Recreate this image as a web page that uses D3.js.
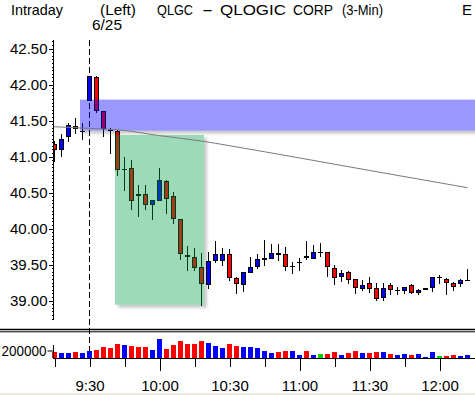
<!DOCTYPE html>
<html>
<head>
<meta charset="utf-8">
<script src="https://cdn.jsdelivr.net/npm/d3@7"></script>
<style>
body { margin: 0; background: #fff; }
svg { display: block; font-family: "Liberation Sans", Arial, sans-serif; }
</style>
</head>
<body>
<svg id="chart" width="475" height="395"></svg>
<script>
// QLGC 3-min bars, 6/25
var times = ["9:15","9:18","9:21","9:24","9:27","9:30","9:33","9:36","9:39","9:42",
  "9:45","9:48","9:51","9:54","9:57","10:00","10:03","10:06","10:09","10:12",
  "10:15","10:18","10:21","10:24","10:27","10:30","10:33","10:36","10:39","10:42",
  "10:45","10:48","10:51","10:54","10:57","11:00","11:03","11:06","11:09","11:12",
  "11:15","11:18","11:21","11:24","11:27","11:30","11:33","11:36","11:39","11:42",
  "11:45","11:48","11:51","11:54","11:57","12:00","12:03","12:06","12:09","12:12"];
var opens = [41.17,41.11,41.28,41.42,41.35,41.79,42.11,41.63,41.375,41.36,
  40.82,40.84,40.48,40.48,40.34,40.40,40.66,40.45,40.13,39.625,
  39.60,39.47,39.23,39.56,39.56,39.645,39.31,39.23,39.40,39.48,
  39.58,39.59,39.66,39.64,39.475,39.535,39.62,39.59,39.68,39.68,
  39.45,39.34,39.40,39.295,39.18,39.24,39.17,39.05,39.21,39.14,
  39.14,39.215,39.115,39.155,39.185,39.32,39.295,39.24,39.24,39.28];
var highs = [41.21,41.31,41.47,41.54,41.46,42.12,42.12,41.63,41.39,41.37,
  41.00,40.95,40.61,40.61,40.40,40.84,40.67,40.50,40.13,39.76,
  39.73,39.66,39.68,39.83,39.73,39.71,39.33,39.39,39.60,39.65,
  39.84,39.78,39.78,39.745,39.54,39.595,39.82,39.77,39.795,39.68,
  39.49,39.42,39.41,39.295,39.285,39.33,39.24,39.24,39.24,39.19,
  39.185,39.23,39.16,39.17,39.33,39.35,39.31,39.255,39.295,39.435];
var lows = [40.94,41.01,41.22,41.32,41.24,41.79,41.62,41.29,41.05,40.74,
  40.53,40.27,40.18,40.27,40.13,40.39,40.22,40.08,39.57,39.43,
  39.42,38.94,39.18,39.53,39.50,39.28,39.11,39.13,39.39,39.45,
  39.49,39.59,39.56,39.43,39.38,39.42,39.57,39.59,39.62,39.345,
  39.23,39.275,39.24,39.10,39.145,39.115,39.005,39.005,39.085,39.085,
  39.10,39.10,39.085,39.155,39.13,39.25,39.085,39.14,39.195,39.28];
var closes = [41.11,41.25,41.44,41.40,41.36,42.12,41.64,41.39,41.37,40.82,
  40.83,40.39,40.47,40.34,40.40,40.68,40.42,40.14,39.66,39.62,
  39.47,39.24,39.55,39.64,39.645,39.32,39.25,39.39,39.46,39.58,
  39.59,39.655,39.65,39.48,39.48,39.54,39.60,39.67,39.68,39.48,
  39.33,39.38,39.295,39.19,39.21,39.18,39.03,39.17,39.155,39.145,
  39.185,39.115,39.14,39.17,39.32,39.32,39.255,39.20,39.28,39.285];
var volumes = [170000,133000,133000,150000,133000,195000,213000,293000,267000,381000,
  355000,328000,300000,300000,222000,507000,248000,355000,453000,381000,
  365000,453000,408000,328000,267000,381000,312000,293000,293000,267000,
  195000,133000,160000,195000,195000,88000,195000,88000,107000,107000,
  160000,88000,140000,195000,140000,140000,170000,170000,107000,88000,
  115000,88000,115000,30000,170000,60000,60000,88000,60000,88000];

// gray study line
var trendTimes = ["9:14","9:30","9:42","10:00","10:18","10:30","11:00","11:30","12:00","12:12"];
var trendValues = [41.415,41.39,41.372,41.29,41.215,41.15,40.98,40.806,40.635,40.567];

// axes
var priceTicks = [39.0,39.5,40.0,40.5,41.0,41.5,42.0,42.5];
var volumeTicks = [200000];
var timeTicks = ["9:15","9:30","9:45","10:00","10:15","10:30","10:45","11:00","11:15","11:30","11:45","12:00"];
var timeLabels = ["9:30","10:00","10:30","11:00","11:30","12:00"];
var longTicks = ["10:00","11:00","11:30","12:00"];

// highlighted zones
var bandStart = "9:27", bandEnd = "12:30", bandLow = 41.36, bandHigh = 41.79;
var boxStart = "9:42", boxEnd = "10:18", boxLow = 38.94, boxHigh = 41.30;

function mins(t) { var p = t.split(":"); return +p[0] * 60 + +p[1]; }
function hm(m) { return Math.floor(m / 60) + ":" + d3.format("02")(m % 60); }

var svg = d3.select("#chart");
var W = 475;

var x = d3.scaleLinear().domain([mins("9:15"), mins("12:12")]).range([54.5, 467.5]);
var y = d3.scaleLinear().domain([39, 42.5]).range([300.5, 48.5]);
var yv = d3.scaleLinear().domain([0, 200000]).range([358, 350.5]);

var defs = svg.append("defs");
defs.append("clipPath").attr("id", "plot").append("rect")
  .attr("x", 54).attr("y", 36).attr("width", W - 54).attr("height", 290);

var sh = defs.append("filter").attr("id", "shadow")
  .attr("x", "-10%").attr("y", "-20%").attr("width", "130%").attr("height", "160%");
sh.append("feGaussianBlur").attr("in", "SourceAlpha").attr("stdDeviation", 1.6).attr("result", "b");
sh.append("feOffset").attr("in", "b").attr("dx", 2.5).attr("dy", 3).attr("result", "o");
sh.append("feComponentTransfer").attr("in", "o").attr("result", "s")
  .append("feFuncA").attr("type", "linear").attr("slope", 0.55);
sh.append("feGaussianBlur").attr("in", "SourceGraphic").attr("stdDeviation", 0.6).attr("result", "g");
var mg = sh.append("feMerge");
mg.append("feMergeNode").attr("in", "s");
mg.append("feMergeNode").attr("in", "g");

// header
var hdr = svg.append("g").attr("font-size", 15).attr("fill", "#000");
function label(tx, ty, len, s) {
  var t = hdr.append("text").attr("x", tx).attr("y", ty).text(s);
  if (len) t.attr("textLength", len).attr("lengthAdjust", "spacingAndGlyphs");
}
label(11, 15, 52, "Intraday");
label(100, 15, 36, "(Left)");
label(157, 15, 36, "QLGC");
label(202, 15, 11, "-");
label(220, 15, 66, "QLOGIC");
label(293, 15, 40, "CORP");
label(342, 15, 41, "(3-Min)");
label(462, 15, 0, "E");
label(92, 30, 30, "6/25");

// session start marker
svg.append("line")
  .attr("x1", x(mins("9:30"))).attr("x2", x(mins("9:30")))
  .attr("y1", 40).attr("y2", 358)
  .attr("stroke", "#000").attr("stroke-dasharray", "6,3");

var bars = times.map(function (t, i) {
  return { t: mins(t), o: opens[i], h: highs[i], l: lows[i], c: closes[i], v: volumes[i] };
});
function barColor(d) { return d.c > d.o ? "#0000ff" : d.c < d.o ? "#ff0000" : "#00d000"; }

var plot = svg.append("g").attr("clip-path", "url(#plot)");

// candles
var cg = plot.append("g").attr("shape-rendering", "crispEdges");
cg.selectAll("line.wick").data(bars).enter().append("line")
  .attr("class", "wick")
  .attr("x1", function (d) { return x(d.t); }).attr("x2", function (d) { return x(d.t); })
  .attr("y1", function (d) { return Math.round(y(d.h)); })
  .attr("y2", function (d) { return Math.round(y(d.l)) + 1; })
  .attr("stroke", "#000");
bars.forEach(function (d) {
  var top = Math.round(y(Math.max(d.o, d.c)));
  var bot = Math.round(y(Math.min(d.o, d.c)));
  var cx = x(d.t);
  if (bot - top < 1) {
    cg.append("line").attr("x1", cx - 2.5).attr("x2", cx + 2.5)
      .attr("y1", top + 0.5).attr("y2", top + 0.5).attr("stroke", "#000");
  } else {
    cg.append("rect").attr("x", cx - 2).attr("y", top + 0.5)
      .attr("width", 4).attr("height", bot - top)
      .attr("fill", barColor(d)).attr("stroke", "#000");
  }
});

// zones
plot.append("rect")
  .attr("x", x(mins(bandStart)) - 2.5).attr("y", y(bandHigh))
  .attr("width", x(mins(bandEnd)) - x(mins(bandStart)))
  .attr("height", y(bandLow) - y(bandHigh))
  .attr("fill", "rgb(0,0,255)").attr("opacity", 0.4)
  .attr("filter", "url(#shadow)");
plot.append("rect")
  .attr("x", x(mins(boxStart)) - 2.5).attr("y", y(boxHigh))
  .attr("width", x(mins(boxEnd)) - x(mins(boxStart)) + 5)
  .attr("height", y(boxLow) - y(boxHigh))
  .attr("fill", "rgb(0,160,70)").attr("opacity", 0.38)
  .attr("filter", "url(#shadow)");

// study line
var line = d3.line().curve(d3.curveMonotoneX)
  .x(function (d) { return x(mins(d[0])); })
  .y(function (d) { return y(d[1]); });
plot.append("path")
  .datum(trendTimes.map(function (t, i) { return [t, trendValues[i]]; }))
  .attr("d", line).attr("fill", "none").attr("stroke", "#7a7a7a").attr("stroke-width", 1);

// price axis
var ax = svg.append("g").attr("transform", "translate(53.5,0)");
ax.append("line").attr("x1", 0).attr("x2", 0).attr("y1", 40).attr("y2", 319).attr("stroke", "#000");
var minor = d3.range(0, 78).map(function (k) { return +(38.75 + k * 0.05).toFixed(2); });
ax.append("g").call(d3.axisLeft(y).tickValues(minor).tickSize(2).tickFormat(""))
  .call(function (g) { g.select(".domain").remove(); });
ax.append("g").call(d3.axisLeft(y).tickValues(priceTicks).tickSize(5).tickPadding(1).tickFormat(d3.format(".2f")))
  .call(function (g) {
    g.select(".domain").remove();
    g.attr("font-family", null).attr("font-size", null);
    g.selectAll("text").attr("font-size", 15).attr("fill", "#000");
  });
ax.selectAll("line").attr("shape-rendering", "crispEdges");

// separator between panels
svg.append("line").attr("x1", 0).attr("x2", W).attr("y1", 329.5).attr("y2", 329.5)
  .attr("stroke", "#000").attr("stroke-width", 1.4);
svg.append("line").attr("x1", 0).attr("x2", W).attr("y1", 331.8).attr("y2", 331.8)
  .attr("stroke", "#000");

// volume
svg.append("g").selectAll("rect").data(bars).enter().append("rect")
  .attr("x", function (d) { return x(d.t) - 2.5; })
  .attr("y", function (d) { return Math.round(yv(d.v)); })
  .attr("width", 5)
  .attr("height", function (d) { return 358 - Math.round(yv(d.v)); })
  .attr("fill", barColor)
  .attr("shape-rendering", "crispEdges");

var vax = svg.append("g").attr("transform", "translate(53.5,0)");
vax.append("line").attr("x1", 0).attr("x2", 0).attr("y1", 345).attr("y2", 358).attr("stroke", "#000");
vax.append("g").call(d3.axisLeft(yv).tickValues(volumeTicks).tickSize(6).tickPadding(1).tickFormat(d3.format("d")))
  .call(function (g) {
    g.select(".domain").remove();
    g.attr("font-family", null).attr("font-size", null);
    g.selectAll("text").attr("font-size", 15).attr("fill", "#000")
      .attr("textLength", 45).attr("lengthAdjust", "spacingAndGlyphs");
  });

// time axis
var tax = svg.append("g").attr("transform", "translate(0,358.5)");
tax.append("line").attr("x1", 53).attr("x2", W).attr("stroke", "#000");
tax.append("g")
  .call(d3.axisBottom(x).tickValues(timeTicks.map(mins)).tickSize(8)
    .tickFormat(function (m) { return timeLabels.indexOf(hm(m)) >= 0 ? hm(m) : ""; }))
  .call(function (g) {
    g.select(".domain").remove();
    g.attr("font-family", null).attr("font-size", null);
    g.selectAll(".tick line")
      .attr("y2", function (m) { return longTicks.indexOf(hm(m)) >= 0 ? 12 : 8; })
      .attr("shape-rendering", "crispEdges");
    g.selectAll("text").attr("font-size", 15).attr("fill", "#000").attr("y", 32.5).attr("dy", null);
  });

svg.append("rect").attr("x", 0).attr("y", 393).attr("width", W).attr("height", 2).attr("fill", "#ece9d8");
</script>
</body>
</html>
